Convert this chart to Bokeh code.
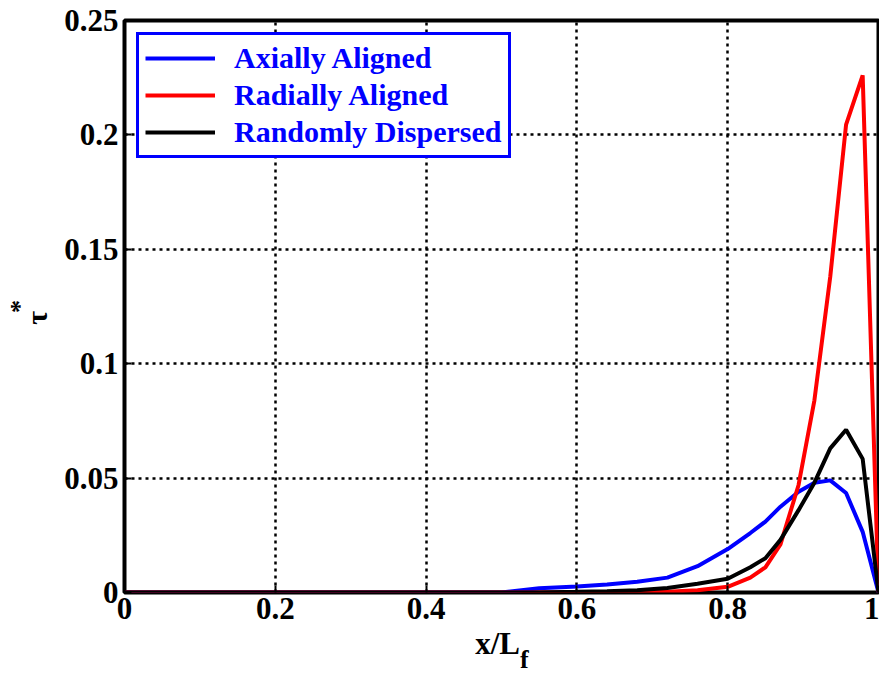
from bokeh.plotting import figure
from bokeh.models import Range1d, FixedTicker, CustomJSTickFormatter, Legend, LinearAxis
from bokeh.embed import file_html
from bokeh.resources import INLINE

x_pos = [0.0, 0.5, 0.55, 0.6, 0.64, 0.68, 0.72, 0.76, 0.8, 0.83, 0.85, 0.87, 0.894, 0.915, 0.936, 0.957, 0.979, 1.0]
axial = [0.0, 0.0, 0.0019, 0.0026, 0.0035, 0.0047, 0.0065, 0.0115, 0.019, 0.026, 0.031, 0.0375, 0.044, 0.048, 0.049, 0.0435, 0.0265, 0.0]
radial = [0.0, 0.0, 0.0, 0.0, 0.0, 0.0, 0.0003, 0.001, 0.0025, 0.0065, 0.011, 0.021, 0.047, 0.084, 0.138, 0.2045, 0.226, 0.0]
random_d = [0.0, 0.0, 0.0, 0.0003, 0.0006, 0.001, 0.002, 0.0038, 0.006, 0.011, 0.015, 0.023, 0.036, 0.048, 0.063, 0.0711, 0.0584, 0.0]

series_names = ["Axially Aligned", "Radially Aligned", "Randomly Dispersed"]
series_colors = ["#0000ff", "#ff0000", "#000000"]
x_ticks = [0, 0.2, 0.4, 0.6, 0.8, 1.0]
y_ticks = [0, 0.05, 0.1, 0.15, 0.2, 0.25]

FONT = "Liberation Serif"
NB = "\u00a0"

p = figure(width=879, height=678, output_backend="svg", toolbar_location=None,
           x_range=Range1d(0, 1), y_range=Range1d(0, 0.25),
           min_border_left=124, min_border_right=1, min_border_top=20, min_border_bottom=86)
p.background_fill_color = "white"
p.border_fill_color = "white"
p.outline_line_color = "black"
p.outline_line_width = 4

fmt = CustomJSTickFormatter(code="return String(Math.round(tick*1000)/1000);")
for ax, ticks in ((p.xaxis[0], x_ticks), (p.yaxis[0], y_ticks)):
    ax.ticker = FixedTicker(ticks=ticks)
    ax.formatter = fmt
    ax.minor_tick_line_color = None
    ax.major_tick_in = 7
    ax.major_tick_out = 0
    ax.major_tick_line_width = 2
    ax.major_tick_line_color = "black"
    ax.axis_line_color = None
    ax.major_label_text_font = FONT
    ax.major_label_text_font_style = "bold"
    ax.major_label_text_font_size = "31px"
    ax.major_label_text_color = "black"
    ax.axis_label_text_font = FONT
    ax.axis_label_text_font_style = "bold"
    ax.axis_label_text_color = "black"
p.xaxis.major_label_standoff = 5
p.yaxis.major_label_standoff = 6

p.xaxis.axis_label = "x/L" + NB
p.xaxis.axis_label_text_font_size = "31px"
p.xaxis.axis_label_standoff = 4

p.yaxis.axis_label = "τ" + NB * 3
p.yaxis.axis_label_text_font_size = "30px"
p.yaxis.axis_label_standoff = 8


def label_only_axis(text, size, standoff):
    return LinearAxis(ticker=FixedTicker(ticks=[]), axis_line_color=None,
                      major_tick_in=0, major_tick_out=0, minor_tick_in=0, minor_tick_out=0,
                      major_label_standoff=0,
                      axis_label=text, axis_label_text_font=FONT,
                      axis_label_text_font_style="bold", axis_label_text_font_size=size,
                      axis_label_text_color="black", axis_label_standoff=standoff)


# subscript "f" of the x-axis label, superscript "*" of the y-axis label
p.add_layout(label_only_axis(NB * 7 + "f", "26px", -19), "below")
p.add_layout(label_only_axis("*", "26px", -16), "left")

for g in (p.xgrid[0], p.ygrid[0]):
    g.grid_line_color = "black"
    g.grid_line_width = 2.5
    g.grid_line_dash = "3 4"

ys = [axial, radial, random_d]
renderers = []
for name, col, yv in zip(series_names, series_colors, ys):
    r = p.line(x_pos, yv, line_color=col, line_width=4)
    renderers.append((name, [r]))

legend = Legend(items=renderers, location="top_left")
legend.margin = 12
legend.border_line_color = "#0000ff"
legend.border_line_alpha = 1
legend.border_line_width = 3
legend.background_fill_color = "white"
legend.background_fill_alpha = 1
legend.label_text_font = FONT
legend.label_text_font_style = "bold"
legend.label_text_font_size = "30px"
legend.label_text_color = "#0000ff"
legend.glyph_width = 70
legend.label_standoff = 19
legend.padding = 6
legend.spacing = 3
p.add_layout(legend)

open("out.html", "w").write(file_html(p, INLINE))
